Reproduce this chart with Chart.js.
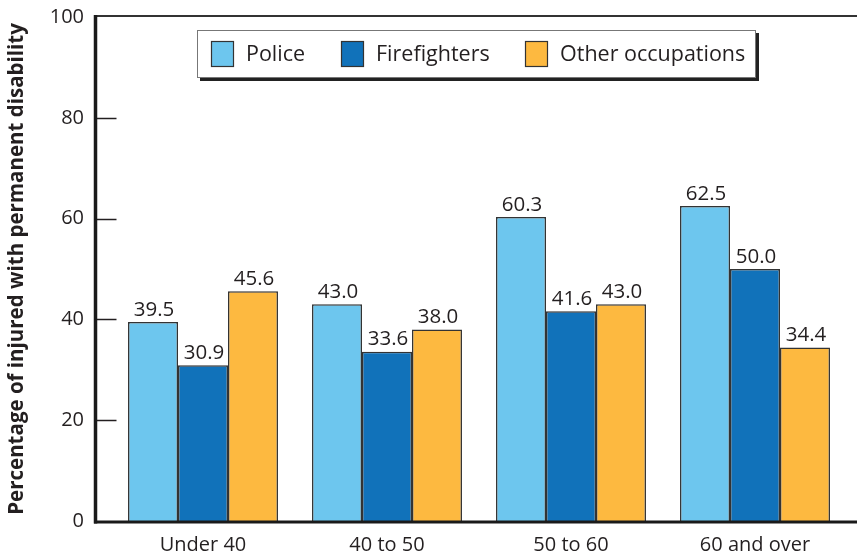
<!DOCTYPE html>
<html>
<head>
<meta charset="utf-8">
<script src="https://cdn.jsdelivr.net/npm/chart.js@4"></script>
<style>
  html, body { margin: 0; padding: 0; background: #fff; }
  #wrap { width: 857px; height: 556px; position: relative; }
</style>
</head>
<body>
<div id="wrap"><canvas id="chart"></canvas></div>
<script>
const categories = ['Under 40', '40 to 50', '50 to 60', '60 and over'];
const police = [39.5, 43.0, 60.3, 62.5];
const firefighters = [30.9, 33.6, 41.6, 50.0];
const otherJobs = [45.6, 38.0, 43.0, 34.4];
const yTicks = [0, 20, 40, 60, 80, 100];

const FONT = '"Open Sans", "Noto Sans", sans-serif';
const ink = '#231f20';

// frame, inward tick marks, value labels and the boxed legend
const decor = {
  id: 'decor',
  afterDatasetsDraw(chart) {
    const ctx = chart.ctx;
    const area = chart.chartArea;
    const y = chart.scales.y;
    const axisX = area.left - 15.5;
    ctx.save();

    // top thin line
    ctx.strokeStyle = '#333';
    ctx.lineWidth = 2;
    ctx.beginPath();
    ctx.moveTo(axisX, y.getPixelForValue(100) - 1);
    ctx.lineTo(chart.width, y.getPixelForValue(100) - 1);
    ctx.stroke();

    // tick marks pointing into the plot
    ctx.strokeStyle = ink;
    ctx.lineWidth = 1.5;
    yTicks.forEach((v) => {
      if (v === 0 || v === 100) return;
      const py = Math.round(y.getPixelForValue(v)) + 0.5;
      ctx.beginPath();
      ctx.moveTo(axisX, py);
      ctx.lineTo(axisX + 21, py);
      ctx.stroke();
    });

    // left + bottom axis
    ctx.strokeStyle = '#1a1a1a';
    ctx.lineWidth = 3.5;
    const y0 = y.getPixelForValue(0) + 1;
    ctx.beginPath();
    ctx.moveTo(axisX, y.getPixelForValue(100) - 2);
    ctx.lineTo(axisX, y0 + 1.5);
    ctx.stroke();
    ctx.lineWidth = 3;
    ctx.beginPath();
    ctx.moveTo(axisX - 1.5, y0);
    ctx.lineTo(chart.width, y0);
    ctx.stroke();

    // value labels
    ctx.fillStyle = ink;
    ctx.font = '20.5px ' + FONT;
    ctx.textAlign = 'center';
    ctx.textBaseline = 'bottom';
    chart.data.datasets.forEach((ds, i) => {
      chart.getDatasetMeta(i).data.forEach((bar, j) => {
        ctx.fillText(ds.data[j].toFixed(1), bar.x + 1, bar.y - 2);
      });
    });

    // legend box
    const bx = 197, by = 30, bw = 559, bh = 48;
    ctx.fillStyle = '#222';
    ctx.fillRect(bx + 3, by + 3, bw, bh);
    ctx.fillStyle = '#fff';
    ctx.fillRect(bx, by, bw, bh);
    ctx.strokeStyle = '#777';
    ctx.lineWidth = 1;
    ctx.strokeRect(bx + 0.5, by + 0.5, bw - 1, bh - 1);
    const itemX = [211, 341, 525];
    ctx.font = '21.5px ' + FONT;
    ctx.textAlign = 'left';
    ctx.textBaseline = 'middle';
    chart.data.datasets.forEach((ds, i) => {
      const sx = itemX[i];
      ctx.fillStyle = ds.backgroundColor;
      ctx.fillRect(sx, by + 11, 23, 26);
      ctx.strokeStyle = '#333';
      ctx.lineWidth = 1.2;
      ctx.strokeRect(sx + 0.5, by + 11.5, 22, 25);
      ctx.fillStyle = ink;
      ctx.fillText(ds.label, sx + 35, by + bh / 2 + 1);
    });
    ctx.restore();
  }
};

const barStyle = { borderColor: '#333', borderWidth: 1.5, borderSkipped: 'bottom' };

new Chart(document.getElementById('chart'), {
  type: 'bar',
  data: {
    labels: categories,
    datasets: [
      { label: 'Police', data: police, backgroundColor: '#6dc6ee', ...barStyle },
      { label: 'Firefighters', data: firefighters, backgroundColor: '#1172ba', ...barStyle },
      { label: 'Other occupations', data: otherJobs, backgroundColor: '#fdb940', ...barStyle }
    ]
  },
  options: {
    responsive: true,
    maintainAspectRatio: false,
    animation: false,
    layout: { padding: { top: 17, right: 10, left: 0, bottom: 0 } },
    categoryPercentage: 0.815,
    barPercentage: 1,
    plugins: {
      legend: { display: false },
      tooltip: { enabled: false }
    },
    scales: {
      x: {
        grid: { display: false, drawTicks: false },
        border: { display: false },
        ticks: {
          color: ink,
          padding: 12,
          font: { family: FONT, size: 20 }
        },
        afterFit(scale) {
          scale.height = 35;
          scale.paddingLeft = 0;
          scale.paddingRight = 0;
        }
      },
      y: {
        min: 0,
        max: 100,
        afterBuildTicks(scale) { scale.ticks = yTicks.map((v) => ({ value: v })); },
        grid: { display: false, drawTicks: false },
        border: { display: false },
        ticks: {
          color: ink,
          padding: 27,
          font: { family: FONT, size: 20 }
        },
        title: {
          display: true,
          text: 'Percentage of injured with permanent disability',
          color: ink,
          padding: { top: 5, bottom: 0 },
          font: { family: FONT, size: 20.5, weight: 'bold' }
        },
        afterFit(scale) {
          scale.width = 111;
          scale.paddingTop = 0;
          scale.paddingBottom = 0;
        }
      }
    }
  },
  plugins: [decor]
});
</script>
</body>
</html>
